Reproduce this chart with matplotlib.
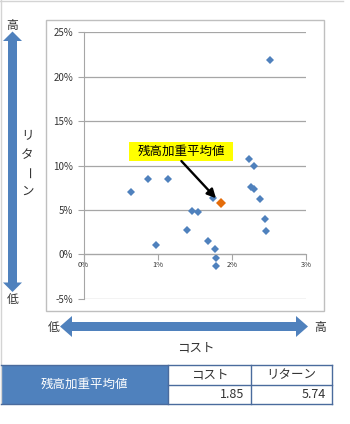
import matplotlib
matplotlib.use('Agg')
import matplotlib.pyplot as plt
from matplotlib.patches import Polygon, Rectangle
from matplotlib.ticker import FuncFormatter

plt.rcParams['font.family'] = ['Noto Sans CJK JP', 'DejaVu Sans']

# fund cost / return (%)
cost = [0.64, 0.87, 1.14, 1.46, 1.55, 1.39, 0.98, 1.68, 1.75, 1.77, 1.79, 1.79,
        2.23, 2.30, 2.26, 2.30, 2.38, 2.45, 2.46, 2.52]
ret = [7.06, 8.45, 8.45, 4.92, 4.78, 2.75, 1.07, 1.55, 6.38, 0.65, -0.43, -1.29,
       10.73, 9.94, 7.60, 7.40, 6.20, 3.95, 2.67, 21.93]

avg_label = '残高加重平均値'
avg_cost = 1.85
avg_ret = 5.74

x_ticks = [0, 1, 2, 3]
y_ticks = [-5, 0, 5, 10, 15, 20, 25]

BLUE = '#4f81bd'
GRID = '#a6a6a6'
TXT = '#333333'

W, H = 350, 424
fig = plt.figure(figsize=(W / 100, H / 100), dpi=100)

# pixel-space layer for frame, arrows and the table
bg = fig.add_axes([0, 0, 1, 1])
bg.set_xlim(0, W)
bg.set_ylim(H, 0)
bg.axis('off')

bg.plot([0, 343], [0.5, 0.5], color='#d4d4d4', lw=1)
bg.plot([0.5, 0.5], [0, 404], color='#d4d4d4', lw=1)
bg.add_patch(Rectangle((46, 20), 278, 291, fill=False, edgecolor='#bfbfbf', lw=1))


def double_arrow(p0, p1, half_shaft, half_head, head_len, vertical):
    a, b = p0, p1
    if vertical:
        c = 12.5
        pts = [(c, a), (c + half_head, a + head_len), (c + half_shaft, a + head_len),
               (c + half_shaft, b - head_len), (c + half_head, b - head_len), (c, b),
               (c - half_head, b - head_len), (c - half_shaft, b - head_len),
               (c - half_shaft, a + head_len), (c - half_head, a + head_len)]
    else:
        c = 326.5
        pts = [(a, c), (a + head_len, c - half_head), (a + head_len, c - half_shaft),
               (b - head_len, c - half_shaft), (b - head_len, c - half_head), (b, c),
               (b - head_len, c + half_head), (b - head_len, c + half_shaft),
               (a + head_len, c + half_shaft), (a + head_len, c + half_head)]
    bg.add_patch(Polygon(pts, closed=True, facecolor=BLUE, edgecolor='none'))


double_arrow(31.5, 292, 4.5, 9.5, 9.5, vertical=True)
double_arrow(60, 308, 4.5, 10.5, 12, vertical=False)

bg.text(12.5, 25, '高', fontsize=8.5, color=TXT, ha='center', va='center')
bg.text(13, 300, '低', fontsize=8.5, color=TXT, ha='center', va='center')
bg.text(53.5, 327, '低', fontsize=8.5, color=TXT, ha='center', va='center')
bg.text(320, 327, '高', fontsize=8.5, color=TXT, ha='center', va='center')

# vertical axis title, one character per line
for ch, yy in zip('リターン', [136, 155, 173, 191]):
    bg.text(27, yy, ch, fontsize=9, color=TXT, ha='center', va='center',
            rotation=-90 if ch == 'ー' else 0)
bg.text(196, 348, 'コスト', fontsize=9, color=TXT, ha='center', va='center')

# summary table
bg.add_patch(Rectangle((1, 365), 167, 39, facecolor=BLUE, edgecolor='none'))
LINE = '#4a6b9d'
for yy, x0 in [(365, 1), (404, 1), (384.5, 168)]:
    bg.plot([x0, 332], [yy, yy], color=LINE, lw=1)
for xx in [168, 251, 332]:
    bg.plot([xx, xx], [365, 404], color=LINE, lw=1)
bg.text(84, 384.5, avg_label, fontsize=9, color='white', ha='center', va='center')
bg.text(209.5, 375, 'コスト', fontsize=9, color=TXT, ha='center', va='center')
bg.text(291.5, 375, 'リターン', fontsize=9, color=TXT, ha='center', va='center')
bg.text(244, 394, f'{avg_cost:.2f}', fontsize=9, color=TXT, ha='right', va='center')
bg.text(326, 394, f'{avg_ret:.2f}', fontsize=9, color=TXT, ha='right', va='center')

# scatter plot
ax = fig.add_axes([83.5 / W, 1 - 298.7 / H, (306 - 83.5) / W, (298.7 - 32.3) / H])
ax.set_facecolor('none')
ax.set_xlim(0, 3)
ax.set_ylim(-5, 25)
ax.set_xticks(x_ticks)
ax.set_yticks(y_ticks)
pct = FuncFormatter(lambda v, _: f'{v:.0f}%')
ax.xaxis.set_major_formatter(pct)
ax.yaxis.set_major_formatter(pct)
ax.yaxis.grid(True, color=GRID, lw=0.9)
ax.set_axisbelow(True)
for s in ['top', 'right']:
    ax.spines[s].set_visible(False)
ax.spines['left'].set_color(GRID)
ax.spines['bottom'].set_color(GRID)
ax.spines['bottom'].set_position(('data', 0))
ax.tick_params(axis='y', length=4, color=GRID, labelsize=7, labelcolor=TXT, pad=3.5)
ax.tick_params(axis='x', length=4, color=GRID, labelsize=5.5, labelcolor=TXT, pad=1)

ax.plot(cost, ret, 'D', color=BLUE, markersize=4.2, markeredgewidth=0, clip_on=False)
ax.plot([avg_cost], [avg_ret], 'D', color='#e46c0a', markersize=4.8,
        markeredgewidth=0, zorder=4)

ax.add_patch(Rectangle((0.62, 10.5), 1.39, 2.17, facecolor='#ffff00',
                       edgecolor='none', zorder=3))
ax.text(1.315, 11.6, avg_label, fontsize=9, color='black', ha='center',
        va='center', zorder=4)
ax.annotate('', xy=(avg_cost, avg_ret), xytext=(1.32, 10.5),
            arrowprops=dict(arrowstyle='-|>', color='black', lw=1.7,
                            mutation_scale=13, shrinkA=0, shrinkB=5),
            zorder=4)

fig.savefig('out.png', dpi=100)
